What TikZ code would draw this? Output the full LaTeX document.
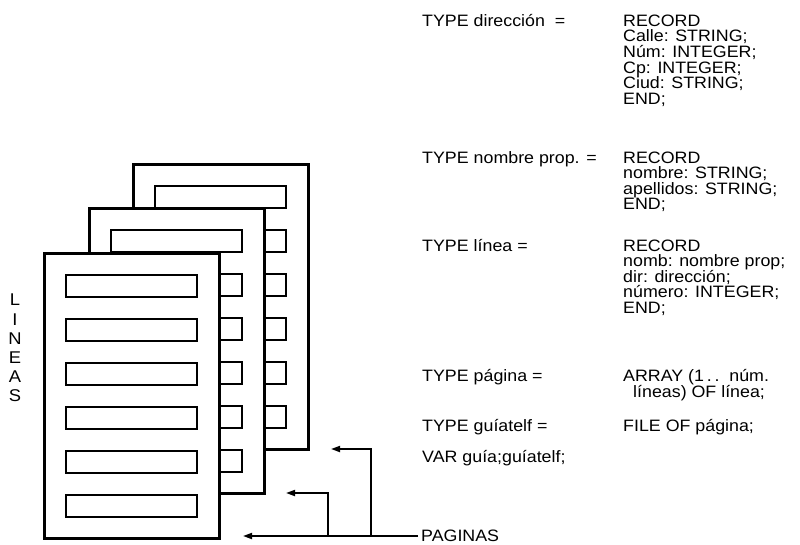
\documentclass[tikz,border=0pt]{standalone}
\usepackage{fontspec}
\setmainfont{Liberation Sans}[FakeStretch=1.08]
\usetikzlibrary{arrows.meta}
\begin{document}
\begin{tikzpicture}[x=1pt,y=-1pt,
  txt/.style={inner sep=0pt, anchor=base west, font=\fontsize{16.5}{16.5}\selectfont},
  page/.style={draw, line width=2.8pt, fill=white, anchor=north west, minimum width=175pt, minimum height=285pt, inner sep=0pt},
  linebox/.style={draw, line width=2.3pt, fill=white, anchor=north west, minimum width=131pt, minimum height=22pt, inner sep=0pt},
  pointer/.style={line width=1.8pt, -{Triangle[length=9pt,width=6pt]}},
  vlet/.style={inner sep=0pt, font=\fontsize{17}{17}\selectfont},
]
\useasboundingbox (0,0) rectangle (800,544);

% pages
\foreach \pg/\x/\y in {back/132/163, mid/88/207, front/43/252} {
  \node[page] (\pg) at (\x,\y) {};
  \foreach \k in {0,...,5}
    \node[linebox] (\pg-\k) at (\x+22, \y+22+44*\k) {};
}

% LINEAS
\foreach \c [count=\i from 0] in {L,I,N,E,A,S}
  \node[vlet] (lin\i) at (15, 300+19.2*\i) {\c};

% left column
\node[txt] (t-dir) at (422,26) {TYPE dirección \ =};
\node[txt] (t-nom) at (422,163) {TYPE nombre prop. =};
\node[txt] (t-lin) at (422,251) {TYPE línea =};
\node[txt] (t-pag) at (422,381) {TYPE página =};
\node[txt] (t-gui) at (422,431) {TYPE guíatelf =};
\node[txt] (t-var) at (422,462) {VAR guía;guíatelf;};

% right column
\foreach \t [count=\i from 0] in {{RECORD},{Calle: STRING;},{Núm: INTEGER;},{Cp: INTEGER;},{Ciud: STRING;},{END;}}
  \node[txt] (d\i) at (623, 26+15.7*\i) {\t};
\foreach \t [count=\i from 0] in {{RECORD},{nombre: STRING;},{apellidos: STRING;},{END;}}
  \node[txt] (n\i) at (623, 163+15.6*\i) {\t};
\foreach \t [count=\i from 0] in {{RECORD},{nomb: nombre prop;},{dir: dirección;},{número: INTEGER;},{END;}}
  \node[txt] (l\i) at (623, 251+15.6*\i) {\t};
\node[txt] (a0) at (623,381) {ARRAY (1\,.\,.\ \ núm.};
\node[txt] (a1) at (633,397) {líneas) OF línea;};
\node[txt] (f0) at (623,431) {FILE OF página;};

% pointers
\node[txt, anchor=west] (pag) at (421,536) {PAGINAS};
\coordinate (t1) at (331,449);
\coordinate (b1) at (371,536);
\coordinate (t2) at (286,493);
\coordinate (b2) at (328,536);
\coordinate (t3) at (243,536);
\draw[pointer] ([xshift=-3pt]pag.west) -- (t3);
\draw[pointer] (b1) |- (t1);
\draw[pointer] (b2) |- (t2);
\end{tikzpicture}
\end{document}
